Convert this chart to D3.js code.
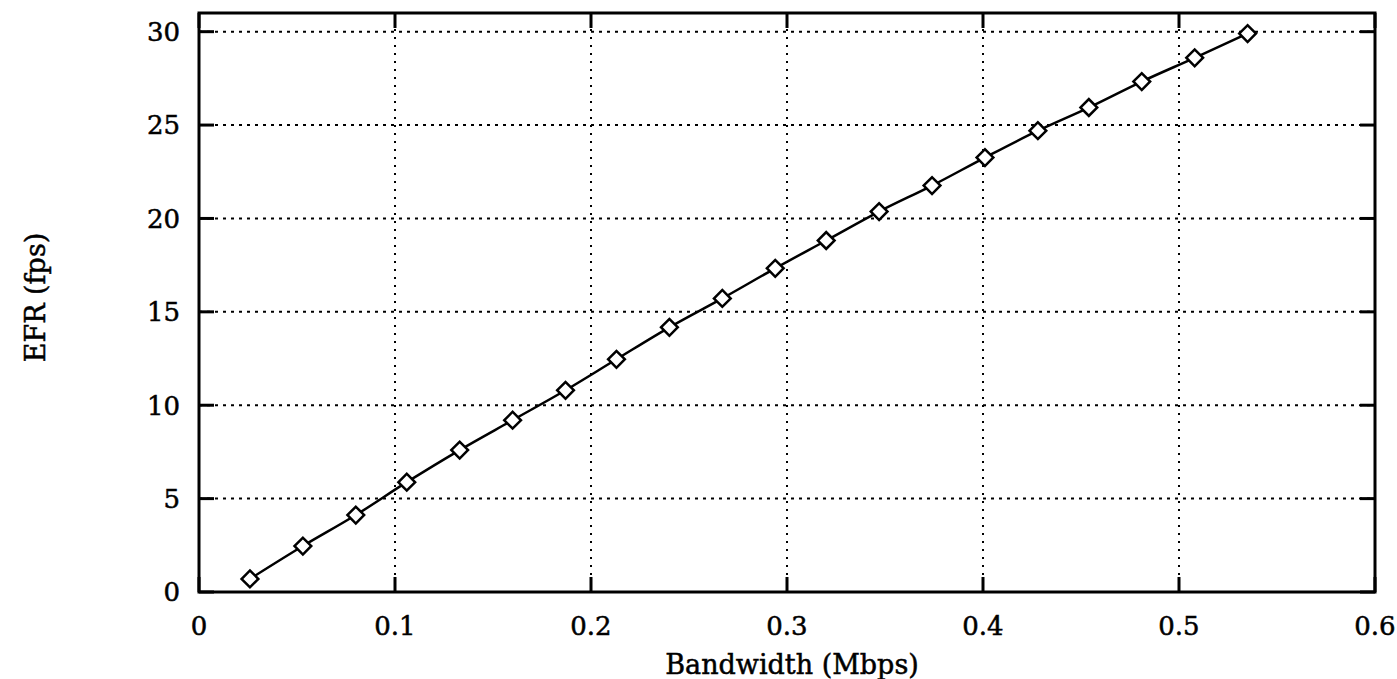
<!DOCTYPE html>
<html>
<head>
<meta charset="utf-8">
<script src="https://cdn.jsdelivr.net/npm/d3@7/dist/d3.min.js"></script>
<style>
html,body{margin:0;padding:0;background:#fff;}
svg{display:block;}
</style>
</head>
<body>
<svg id="chart" width="1397" height="679"></svg>
<script>
// Data
const bandwidth = [0.026, 0.053, 0.080, 0.106, 0.133, 0.160, 0.187, 0.213, 0.240, 0.267,
                   0.294, 0.320, 0.347, 0.374, 0.401, 0.428, 0.454, 0.481, 0.508, 0.535];
const efr = [0.70, 2.46, 4.12, 5.88, 7.6, 9.2, 10.8, 12.46, 14.17, 15.72,
             17.33, 18.82, 20.37, 21.76, 23.26, 24.7, 25.94, 27.33, 28.6, 29.9];
const xTicks = [0, 0.1, 0.2, 0.3, 0.4, 0.5, 0.6];
const yTicks = [0, 5, 10, 15, 20, 25, 30];
const xTitle = "Bandwidth (Mbps)";
const yTitle = "EFR (fps)";

const svg = d3.select("#chart");
const L = 199, R = 1375, T = 13, B = 592;
const x = d3.scaleLinear().domain([0, 0.6]).range([L, R]);
const y = d3.scaleLinear().domain([0, 31]).range([B, T]);
const font = "'DejaVu Serif', 'Liberation Serif', serif";

// grid
const g = svg.append("g");
g.selectAll("line.gx").data(xTicks.filter(d => d > 0 && d < 0.6)).enter().append("line")
  .attr("x1", d => x(d)).attr("x2", d => x(d)).attr("y1", T).attr("y2", B)
  .attr("stroke", "#000").attr("stroke-width", 2).attr("stroke-dasharray", "2,6");
g.selectAll("line.gy").data(yTicks.filter(d => d > 0)).enter().append("line")
  .attr("x1", L).attr("x2", R).attr("y1", d => y(d)).attr("y2", d => y(d))
  .attr("stroke", "#000").attr("stroke-width", 2).attr("stroke-dasharray", "3,5");

// inward ticks
const tl = 15;
yTicks.forEach(d => {
  g.append("line").attr("x1", L).attr("x2", L + tl).attr("y1", y(d)).attr("y2", y(d)).attr("stroke", "#000").attr("stroke-width", 3);
  g.append("line").attr("x1", R - tl).attr("x2", R).attr("y1", y(d)).attr("y2", y(d)).attr("stroke", "#000").attr("stroke-width", 3);
});
xTicks.forEach(d => {
  g.append("line").attr("x1", x(d)).attr("x2", x(d)).attr("y1", B).attr("y2", B - tl).attr("stroke", "#000").attr("stroke-width", 3);
  g.append("line").attr("x1", x(d)).attr("x2", x(d)).attr("y1", T).attr("y2", T + tl).attr("stroke", "#000").attr("stroke-width", 3);
});

// frame
svg.append("rect").attr("x", L).attr("y", T).attr("width", R - L).attr("height", B - T)
  .attr("fill", "none").attr("stroke", "#000").attr("stroke-width", 3);

// tick labels
svg.selectAll("text.xt").data(xTicks).enter().append("text")
  .attr("x", d => x(d)).attr("y", 635).attr("text-anchor", "middle")
  .attr("font-family", font).attr("font-size", 26)
  .attr("stroke", "#000").attr("stroke-width", 0.5)
  .text(d => d === 0 ? "0" : d3.format(".1f")(d));
svg.selectAll("text.yt").data(yTicks).enter().append("text")
  .attr("x", 180).attr("y", d => y(d)).attr("dy", "0.36em").attr("text-anchor", "end")
  .attr("font-family", font).attr("font-size", 26)
  .attr("stroke", "#000").attr("stroke-width", 0.5)
  .text(d => d);

// titles
svg.append("text").attr("x", (L + R) / 2 + 5).attr("y", 674).attr("text-anchor", "middle")
  .attr("font-family", font).attr("font-size", 27)
  .attr("stroke", "#000").attr("stroke-width", 0.5).text(xTitle);
svg.append("text").attr("transform", `translate(45,${(T + B) / 2 - 5}) rotate(-90)`)
  .attr("text-anchor", "middle").attr("font-family", font).attr("font-size", 27)
  .attr("stroke", "#000").attr("stroke-width", 0.5).text(yTitle);

// series
const pts = bandwidth.map((b, i) => [b, efr[i]]);
const line = d3.line().x(d => x(d[0])).y(d => y(d[1])).curve(d3.curveMonotoneX);
svg.append("path").datum(pts).attr("d", line).attr("fill", "none").attr("stroke", "#000").attr("stroke-width", 2.5);

svg.selectAll("path.pt").data(pts).enter().append("path")
  .attr("transform", d => `translate(${x(d[0])},${y(d[1])}) rotate(45)`)
  .attr("d", d3.symbol().type(d3.symbolSquare).size(140))
  .attr("fill", "#fff").attr("stroke", "#000").attr("stroke-width", 2.5);
</script>
</body>
</html>
